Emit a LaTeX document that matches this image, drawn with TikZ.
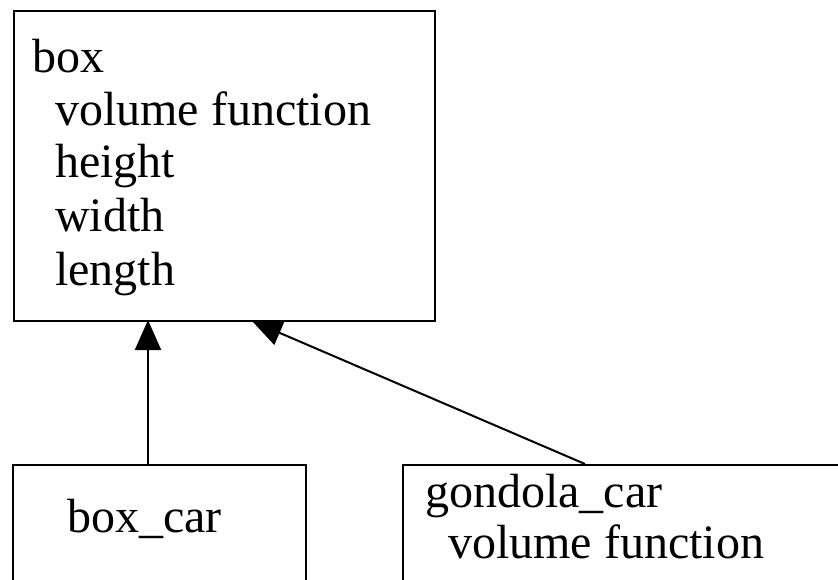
\documentclass[tikz,border=0pt]{standalone}
\usepackage{fontspec}
\setmainfont{Liberation Serif}
\usetikzlibrary{arrows.meta}
\begin{document}
\begin{tikzpicture}[x=1pt,y=1pt,
  cls/.style={draw, line width=2pt, inner sep=0pt, anchor=north west},
  lbl/.style={anchor=base west, inner sep=0pt, font=\fontsize{48}{53}\selectfont},
  inh/.style={line width=2pt, -{Triangle[length=30pt,width=26pt]}}]
\useasboundingbox (0,0) rectangle (838,-579);
\clip (0,0) rectangle (838,-579);
% top class
\node[cls, minimum width=421pt, minimum height=310.5pt] (box) at (13,-9.5) {};
\node[lbl] (t1) at (32,-72) {box};
\node[lbl] (t2) at (55,-125) {volume function};
\node[lbl] (t3) at (55,-177) {height};
\node[lbl] (t4) at (55,-231) {width};
\node[lbl] (t5) at (55,-285) {length};
% box_car
\node[cls, minimum width=293pt, minimum height=200pt] (boxcar) at (12,-464) {};
\node[lbl] (b1) at (67,-532) {box\_car};
% gondola_car
\node[cls, minimum width=480pt, minimum height=200pt] (gondola) at (402,-464) {};
\node[lbl] (g1) at (425,-507) {gondola\_car};
\node[lbl] (g2) at (448,-558) {volume function};
% connectors
\coordinate (a1) at (148,-464);
\coordinate (a2) at (148,-320);
\coordinate (c1) at (585,-464);
\coordinate (c2) at (252,-321);
\draw[inh] (a1) -- (a2);
\draw[inh] (c1) -- (c2);
\end{tikzpicture}
\end{document}
